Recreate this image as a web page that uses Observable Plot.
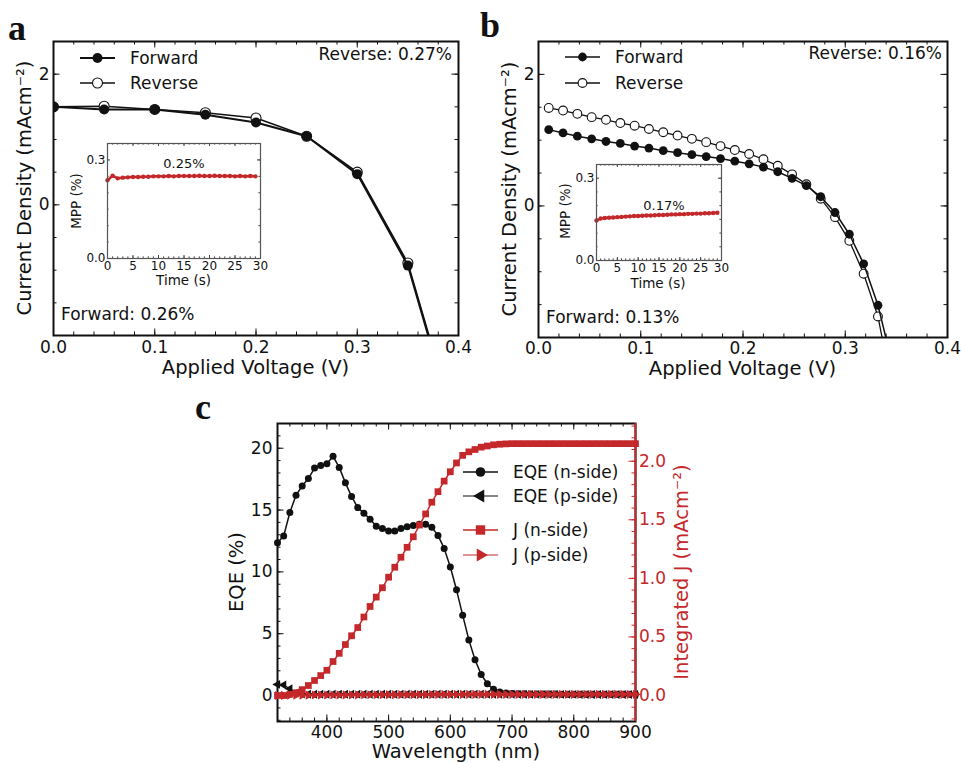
<!DOCTYPE html>
<html><head><meta charset="utf-8">
<script src="https://cdn.jsdelivr.net/npm/d3@7"></script>
<script src="https://cdn.jsdelivr.net/npm/@observablehq/plot@0.6"></script>
<style>
body{margin:0;background:#fff;}
#root{position:relative;width:961px;height:763px;overflow:hidden;background:#fff;font-family:"DejaVu Sans",sans-serif;color:#111;}
</style></head><body><div id="root"></div>
<script>
// ---------------- data ----------------
// Panel a (J-V, forward / reverse)
const aVoltage = [0, 0.05, 0.1, 0.15, 0.2, 0.25, 0.3, 0.35, 0.4];
const aForward = [1.50, 1.46, 1.46, 1.38, 1.26, 1.05, 0.47, -0.93, -3.6];
const aReverse = [1.50, 1.51, 1.46, 1.41, 1.33, 1.05, 0.50, -0.89, -3.55];
// Panel b
const bVoltage = [0.010, 0.024, 0.038, 0.052, 0.066, 0.080, 0.094, 0.108, 0.122, 0.136, 0.150, 0.164, 0.178, 0.192, 0.206, 0.220, 0.234, 0.248, 0.262, 0.276, 0.290, 0.304, 0.318, 0.332, 0.346];
const bForward = [1.16, 1.11, 1.06, 1.02, 0.98, 0.95, 0.91, 0.88, 0.84, 0.81, 0.78, 0.75, 0.72, 0.68, 0.64, 0.59, 0.52, 0.42, 0.31, 0.14, -0.10, -0.43, -0.88, -1.51, -2.4];
const bReverse = [1.49, 1.45, 1.40, 1.35, 1.31, 1.26, 1.22, 1.17, 1.12, 1.07, 1.02, 0.97, 0.91, 0.85, 0.79, 0.71, 0.61, 0.48, 0.33, 0.11, -0.17, -0.53, -1.03, -1.68, -2.8];
// Insets (MPP tracking)
const mppTime = [0, 1, 2, 3, 4, 5, 6, 7, 8, 9, 10, 11, 12, 13, 14, 15, 16, 17, 18, 19, 20, 21, 22, 23, 24, 25, 26, 27, 28, 29];
const aMPP = [0.238, 0.252, 0.244, 0.246, 0.247, 0.248, 0.248, 0.249, 0.249, 0.250, 0.250, 0.250, 0.251, 0.250, 0.251, 0.251, 0.251, 0.251, 0.252, 0.251, 0.251, 0.252, 0.251, 0.251, 0.251, 0.250, 0.251, 0.250, 0.251, 0.250];
const bMPP = [0.146, 0.153, 0.155, 0.156, 0.157, 0.158, 0.159, 0.160, 0.161, 0.162, 0.162, 0.163, 0.164, 0.164, 0.165, 0.166, 0.166, 0.167, 0.168, 0.168, 0.169, 0.169, 0.170, 0.170, 0.171, 0.171, 0.172, 0.172, 0.173, 0.174];
// Panel c (EQE and integrated J)
const wavelength = [320, 330, 340, 350, 360, 370, 380, 390, 400, 410, 420, 430, 440, 450, 460, 470, 480, 490, 500, 510, 520, 530, 540, 550, 560, 570, 580, 590, 600, 610, 620, 630, 640, 650, 660, 670, 680, 690, 700, 710, 720, 730, 740, 750, 760, 770, 780, 790, 800, 810, 820, 830, 840, 850, 860, 870, 880, 890, 900];
const eqeN = [12.35, 12.9, 14.8, 16.2, 16.95, 17.55, 18.4, 18.6, 18.75, 19.35, 18.45, 17.2, 16.1, 15.2, 14.75, 14.25, 13.7, 13.5, 13.3, 13.3, 13.5, 13.65, 13.75, 13.85, 13.85, 13.6, 12.95, 11.9, 10.4, 8.55, 6.5, 4.5, 2.9, 1.7, 0.95, 0.5, 0.28, 0.2, 0.17, 0.15, 0.14, 0.13, 0.13, 0.12, 0.12, 0.12, 0.11, 0.11, 0.11, 0.11, 0.1, 0.1, 0.1, 0.1, 0.1, 0.1, 0.1, 0.1, 0.1];
const eqeP = [0.9, 0.85, 0.55, 0.2, 0.12, 0.1, 0.1, 0.1, 0.1, 0.1, 0.1, 0.1, 0.1, 0.1, 0.1, 0.1, 0.1, 0.1, 0.1, 0.1, 0.1, 0.1, 0.1, 0.1, 0.1, 0.1, 0.1, 0.1, 0.1, 0.1, 0.1, 0.1, 0.1, 0.1, 0.1, 0.1, 0.1, 0.1, 0.1, 0.09, 0.09, 0.09, 0.09, 0.09, 0.09, 0.09, 0.09, 0.09, 0.09, 0.08, 0.08, 0.08, 0.08, 0.08, 0.08, 0.08, 0.08, 0.08, 0.08];
const jN = [0.0, 0.0, 0.01, 0.024, 0.05, 0.085, 0.128, 0.17, 0.215, 0.29, 0.36, 0.435, 0.51, 0.58, 0.67, 0.76, 0.84, 0.92, 1.01, 1.095, 1.18, 1.265, 1.355, 1.455, 1.55, 1.65, 1.74, 1.83, 1.91, 1.985, 2.05, 2.08, 2.1, 2.12, 2.13, 2.14, 2.145, 2.148, 2.15, 2.15, 2.15, 2.15, 2.15, 2.15, 2.15, 2.15, 2.15, 2.15, 2.15, 2.15, 2.15, 2.15, 2.15, 2.15, 2.15, 2.15, 2.15, 2.15, 2.15];
const jP = [0.0, 0.001, 0.002, 0.003, 0.003, 0.003, 0.004, 0.004, 0.004, 0.004, 0.005, 0.005, 0.005, 0.005, 0.006, 0.006, 0.006, 0.006, 0.007, 0.007, 0.007, 0.007, 0.008, 0.008, 0.008, 0.008, 0.009, 0.009, 0.009, 0.009, 0.01, 0.01, 0.01, 0.01, 0.01, 0.01, 0.01, 0.01, 0.01, 0.01, 0.01, 0.01, 0.01, 0.01, 0.01, 0.01, 0.01, 0.01, 0.01, 0.01, 0.01, 0.01, 0.01, 0.01, 0.01, 0.01, 0.01, 0.01, 0.01];
// tick labels
const jvXTicks = [0, 0.1, 0.2, 0.3, 0.4];
const jvYTicks = [0, 2];
const mppXTicks = [0, 5, 10, 15, 20, 25, 30];
const mppYTicks = [0, 0.3];
const cXTicks = [400, 500, 600, 700, 800, 900];
const cYTicks = [0, 5, 10, 15, 20];
const cJTicks = [0, 0.5, 1.0, 1.5, 2.0];

// ---------------- helpers ----------------
const RED = "#c4282b";
const INK = "#111";
const FONT = '"DejaVu Sans", sans-serif';
const root = document.getElementById("root");
function place(el, left, top) {
  el.style.position = "absolute"; el.style.left = left + "px"; el.style.top = top + "px";
  root.appendChild(el);
}
function label(text, x, y, {size = 17, anchor = "middle", rotate = 0, color = INK} = {}) {
  const d = document.createElement("div");
  d.textContent = text;
  const tx = anchor === "start" ? "0" : anchor === "end" ? "-100%" : "-50%";
  d.style.cssText = `position:absolute;left:${x}px;top:${y}px;font-size:${size}px;font-family:${FONT};color:${color};white-space:nowrap;line-height:0.9;transform:translate(${tx},-50%) rotate(${rotate}deg);`;
  root.appendChild(d);
}
function letter(text, x, top) {
  const d = document.createElement("div");
  d.textContent = text;
  d.style.cssText = `position:absolute;left:${x}px;top:${top}px;font-size:36px;font-weight:bold;font-family:"Liberation Serif","DejaVu Serif",serif;color:#111;line-height:1;`;
  root.appendChild(d);
}
function ticks(axis, vals, len, w, h, sides, stroke = INK, sw = 1) {
  const m = [];
  if (axis === "x") {
    if (sides.includes("b")) m.push(Plot.ruleX(vals, {x: d => d, insetTop: h - len, stroke, strokeWidth: sw}));
    if (sides.includes("t")) m.push(Plot.ruleX(vals, {x: d => d, insetBottom: h - len, stroke, strokeWidth: sw}));
  } else {
    if (sides.includes("l")) m.push(Plot.ruleY(vals, {y: d => d, insetRight: w - len, stroke, strokeWidth: sw}));
    if (sides.includes("r")) m.push(Plot.ruleY(vals, {y: d => d, insetLeft: w - len, stroke, strokeWidth: sw}));
  }
  return m;
}
const rows = (xs, ys) => xs.map((x, i) => ({x, y: ys[i]}));
const baseStyle = (size, color = INK) => ({fontFamily: FONT, fontSize: size + "px", color, background: "transparent", overflow: "visible"});

// ---------------- J-V panels ----------------
function jvPanel({left, width, mL, mR, mT, mB, pad, volt, fwd, rev, r, lwF, lwR}) {
  const height = 390, w = width - mL - mR, h = height - mT - mB;
  const plot = Plot.plot({
    width, height, marginLeft: mL, marginRight: mR, marginTop: mT, marginBottom: mB,
    x: {domain: [0, 0.4]}, y: {domain: [-2, 2.5]},
    style: baseStyle(17),
    marks: [
      ...ticks("x", d3.range(0, 0.4001, 0.02), 3.5, w, h, "bt"),
      ...ticks("x", jvXTicks, 6.5, w, h, "bt"),
      ...ticks("y", d3.range(-2, 2.501, 0.5), 3.5, w, h, "lr"),
      ...ticks("y", jvYTicks, 6.5, w, h, "lr"),
      Plot.axisX({ticks: jvXTicks, tickSize: 0, tickPadding: pad, tickFormat: d3.format(".1f"), label: null}),
      Plot.axisY({ticks: jvYTicks, tickSize: 0, tickPadding: 4, tickFormat: d3.format("d"), label: null}),
      Plot.line(rows(volt, rev), {x: "x", y: "y", stroke: INK, strokeWidth: lwR, clip: true}),
      Plot.dot(rows(volt, rev), {x: "x", y: "y", r, fill: "white", stroke: INK, strokeWidth: 1.1, clip: true}),
      Plot.line(rows(volt, fwd), {x: "x", y: "y", stroke: INK, strokeWidth: lwF, clip: true}),
      Plot.dot(rows(volt, fwd), {x: "x", y: "y", r, fill: INK, clip: true}),
      Plot.frame({stroke: INK, strokeWidth: 2})
    ]
  });
  place(plot, left, 0);
}
jvPanel({left: 0, width: 480, mL: 53, mR: 22, mT: 41, mB: 55, pad: 5.5, volt: aVoltage, fwd: aForward, rev: aReverse, r: 5, lwF: 2, lwR: 1.5});
jvPanel({left: 480, width: 481, mL: 58, mR: 14, mT: 41, mB: 53, pad: 4, volt: bVoltage, fwd: bForward, rev: bReverse, r: 4.4, lwF: 1.5, lwR: 1.3});

// ---------------- insets ----------------
function inset({left, top, width, height, mL, mR, mT, mB, values}) {
  const w = width - mL - mR, h = height - mT - mB;
  const plot = Plot.plot({
    width, height, marginLeft: mL, marginRight: mR, marginTop: mT, marginBottom: mB,
    x: {domain: [0, 30]}, y: {domain: [0, 0.35]},
    style: baseStyle(12),
    marks: [
      Plot.frame({fill: "white", stroke: null}),
      ...ticks("x", d3.range(0, 30.01, 1), 1.6, w, h, "bt", "#444"),
      ...ticks("x", mppXTicks, 3, w, h, "bt", "#444"),
      ...ticks("y", d3.range(0, 0.351, 0.05), 1.6, w, h, "lr", "#444"),
      ...ticks("y", mppYTicks, 3, w, h, "lr", "#444"),
      Plot.axisX({ticks: mppXTicks, tickSize: 0, tickPadding: 2.5, tickFormat: d3.format("d"), label: null}),
      Plot.axisY({ticks: mppYTicks, tickSize: 0, tickPadding: 2, tickFormat: d3.format(".1f"), label: null}),
      Plot.line(rows(mppTime, values), {x: "x", y: "y", stroke: RED, strokeWidth: 2.5}),
      Plot.dot(rows(mppTime, values), {x: "x", y: "y", r: 2.2, fill: RED}),
      Plot.frame({stroke: "#555", strokeWidth: 1.2})
    ]
  });
  place(plot, left, top);
}
inset({left: 60, top: 130, width: 215, height: 170, mL: 47, mR: 15, mT: 13, mB: 42, values: aMPP});
inset({left: 545, top: 150, width: 190, height: 150, mL: 51, mR: 14, mT: 14, mB: 40, values: bMPP});

// ---------------- panel c ----------------
{
  const left = 180, top = 390, width = 520, height = 373;
  const mL = 97, mR = 65, mT = 33, mB = 42;
  const w = width - mL - mR, h = height - mT - mB;
  const eqePlot = Plot.plot({
    width, height, marginLeft: mL, marginRight: mR, marginTop: mT, marginBottom: mB,
    x: {domain: [320, 900]}, y: {domain: [-2.1, 22]},
    style: baseStyle(17),
    marks: [
      ...ticks("x", d3.range(320, 900.1, 20), 3.5, w, h, "bt"),
      ...ticks("x", cXTicks, 6.5, w, h, "bt"),
      ...ticks("y", d3.range(-2, 22.01, 1), 3.5, w, h, "l"),
      ...ticks("y", cYTicks, 6.5, w, h, "l"),
      Plot.axisX({ticks: cXTicks, tickSize: 0, tickPadding: 4.5, tickFormat: d3.format("d"), label: null}),
      Plot.axisY({ticks: cYTicks, tickSize: 0, tickPadding: 5, tickFormat: d3.format("d"), label: null}),
      Plot.line(rows(wavelength, eqeN), {x: "x", y: "y", stroke: INK, strokeWidth: 1.5}),
      Plot.dot(rows(wavelength, eqeN), {x: "x", y: "y", r: 3.5, fill: INK}),
      Plot.line(rows(wavelength, eqeP), {x: "x", y: "y", stroke: INK, strokeWidth: 1.2}),
      Plot.dot(rows(wavelength, eqeP), {x: "x", y: "y", r: 3.3, fill: INK, symbol: "triangle", rotate: -90}),
      Plot.frame({stroke: INK, strokeWidth: 2})
    ]
  });
  place(eqePlot, left, top);
  const jPlot = Plot.plot({
    width, height, marginLeft: mL, marginRight: mR, marginTop: mT, marginBottom: mB,
    x: {domain: [320, 900], axis: null}, y: {domain: [-0.222, 2.322]},
    style: baseStyle(17, RED),
    marks: [
      ...ticks("y", d3.range(-0.2, 2.301, 0.1), 3.5, w, h, "r", RED),
      ...ticks("y", cJTicks, 6.5, w, h, "r", RED),
      Plot.axisY({anchor: "right", ticks: cJTicks, tickSize: 0, tickPadding: 3.5, tickFormat: d3.format(".1f"), label: null}),
      Plot.line(rows(wavelength, jN), {x: "x", y: "y", stroke: RED, strokeWidth: 1.5}),
      Plot.dot(rows(wavelength, jN), {x: "x", y: "y", r: 3.8, fill: RED, symbol: "square"}),
      Plot.line(rows(wavelength, jP), {x: "x", y: "y", stroke: RED, strokeWidth: 1.2}),
      Plot.dot(rows(wavelength, jP), {x: "x", y: "y", r: 3.4, fill: RED, symbol: "triangle", rotate: 90}),
      Plot.ruleX([900], {stroke: RED, strokeWidth: 2})
    ]
  });
  place(jPlot, left, top);
}

// ---------------- text ----------------
letter("a", 8, 10);
letter("b", 480, 7);
letter("c", 195, 389);
label("Current Density (mAcm\u207B\u00B2)", 25, 188, {size: 19.5, rotate: -90});
label("Applied Voltage (V)", 255.5, 367.5, {size: 19.5});
label("Reverse: 0.27%", 452, 55, {anchor: "end"});
label("Forward: 0.26%", 61, 315, {anchor: "start"});
label("0.25%", 184, 164, {size: 13});
label("MPP (%)", 76, 201, {size: 13.5, rotate: -90});
label("Time (s)", 183.5, 279.5, {size: 13.5});

label("Current Density (mAcm\u207B\u00B2)", 510, 189, {size: 19.5, rotate: -90});
label("Applied Voltage (V)", 742.5, 368.5, {size: 19.5});
label("Reverse: 0.16%", 942, 54, {anchor: "end"});
label("Forward: 0.13%", 546, 318, {anchor: "start"});
label("0.17%", 664, 206, {size: 13});
label("MPP (%)", 565, 211, {size: 13.5, rotate: -90});
label("Time (s)", 658, 282.5, {size: 13.5});

label("EQE (%)", 237, 572, {size: 19.5, rotate: -90});
label("Wavelength (nm)", 456, 752, {size: 19.5});
label("Integrated J (mAcm\u207B\u00B2)", 682, 572, {size: 19.5, rotate: -90, color: RED});

// ---------------- legends ----------------
const lg = d3.create("svg").attr("width", 961).attr("height", 763)
  .style("position", "absolute").style("left", "0px").style("top", "0px").style("pointer-events", "none");
function legendItem({x0, x1, y, tx, text, kind, r, color, lw}) {
  lg.append("line").attr("x1", x0).attr("x2", x1).attr("y1", y).attr("y2", y).attr("stroke", color).attr("stroke-width", lw);
  const cx = (x0 + x1) / 2;
  if (kind === "dot") lg.append("circle").attr("cx", cx).attr("cy", y).attr("r", r).attr("fill", color);
  else if (kind === "open") lg.append("circle").attr("cx", cx).attr("cy", y).attr("r", r).attr("fill", "white").attr("stroke", color).attr("stroke-width", 1.1);
  else {
    const type = kind === "square" ? d3.symbolSquare : d3.symbolTriangle;
    const rot = kind === "left" ? -90 : kind === "right" ? 90 : 0;
    lg.append("path").attr("d", d3.symbol(type, Math.PI * r * r)()).attr("fill", color)
      .attr("transform", `translate(${cx},${y}) rotate(${rot})`);
  }
  lg.append("text").attr("x", tx).attr("y", y).attr("dy", "0.36em").attr("font-family", FONT).attr("font-size", 17).attr("fill", INK).text(text);
}
legendItem({x0: 80, x1: 115, y: 58, tx: 130, text: "Forward", kind: "dot", r: 5, color: INK, lw: 2});
legendItem({x0: 80, x1: 115, y: 83, tx: 130, text: "Reverse", kind: "open", r: 5, color: INK, lw: 1.5});
legendItem({x0: 565, x1: 600, y: 57, tx: 615, text: "Forward", kind: "dot", r: 4.4, color: INK, lw: 1.5});
legendItem({x0: 565, x1: 600, y: 83, tx: 615, text: "Reverse", kind: "open", r: 4.4, color: INK, lw: 1.3});
legendItem({x0: 463, x1: 498, y: 472, tx: 513, text: "EQE (n-side)", kind: "dot", r: 4.8, color: INK, lw: 1.5});
legendItem({x0: 463, x1: 498, y: 496, tx: 513, text: "EQE (p-side)", kind: "left", r: 4.8, color: INK, lw: 1.2});
legendItem({x0: 463, x1: 498, y: 530, tx: 513, text: "J (n-side)", kind: "square", r: 5.3, color: RED, lw: 1.5});
legendItem({x0: 463, x1: 498, y: 555, tx: 513, text: "J (p-side)", kind: "right", r: 4.8, color: RED, lw: 1.2});
root.appendChild(lg.node());
</script></body></html>
